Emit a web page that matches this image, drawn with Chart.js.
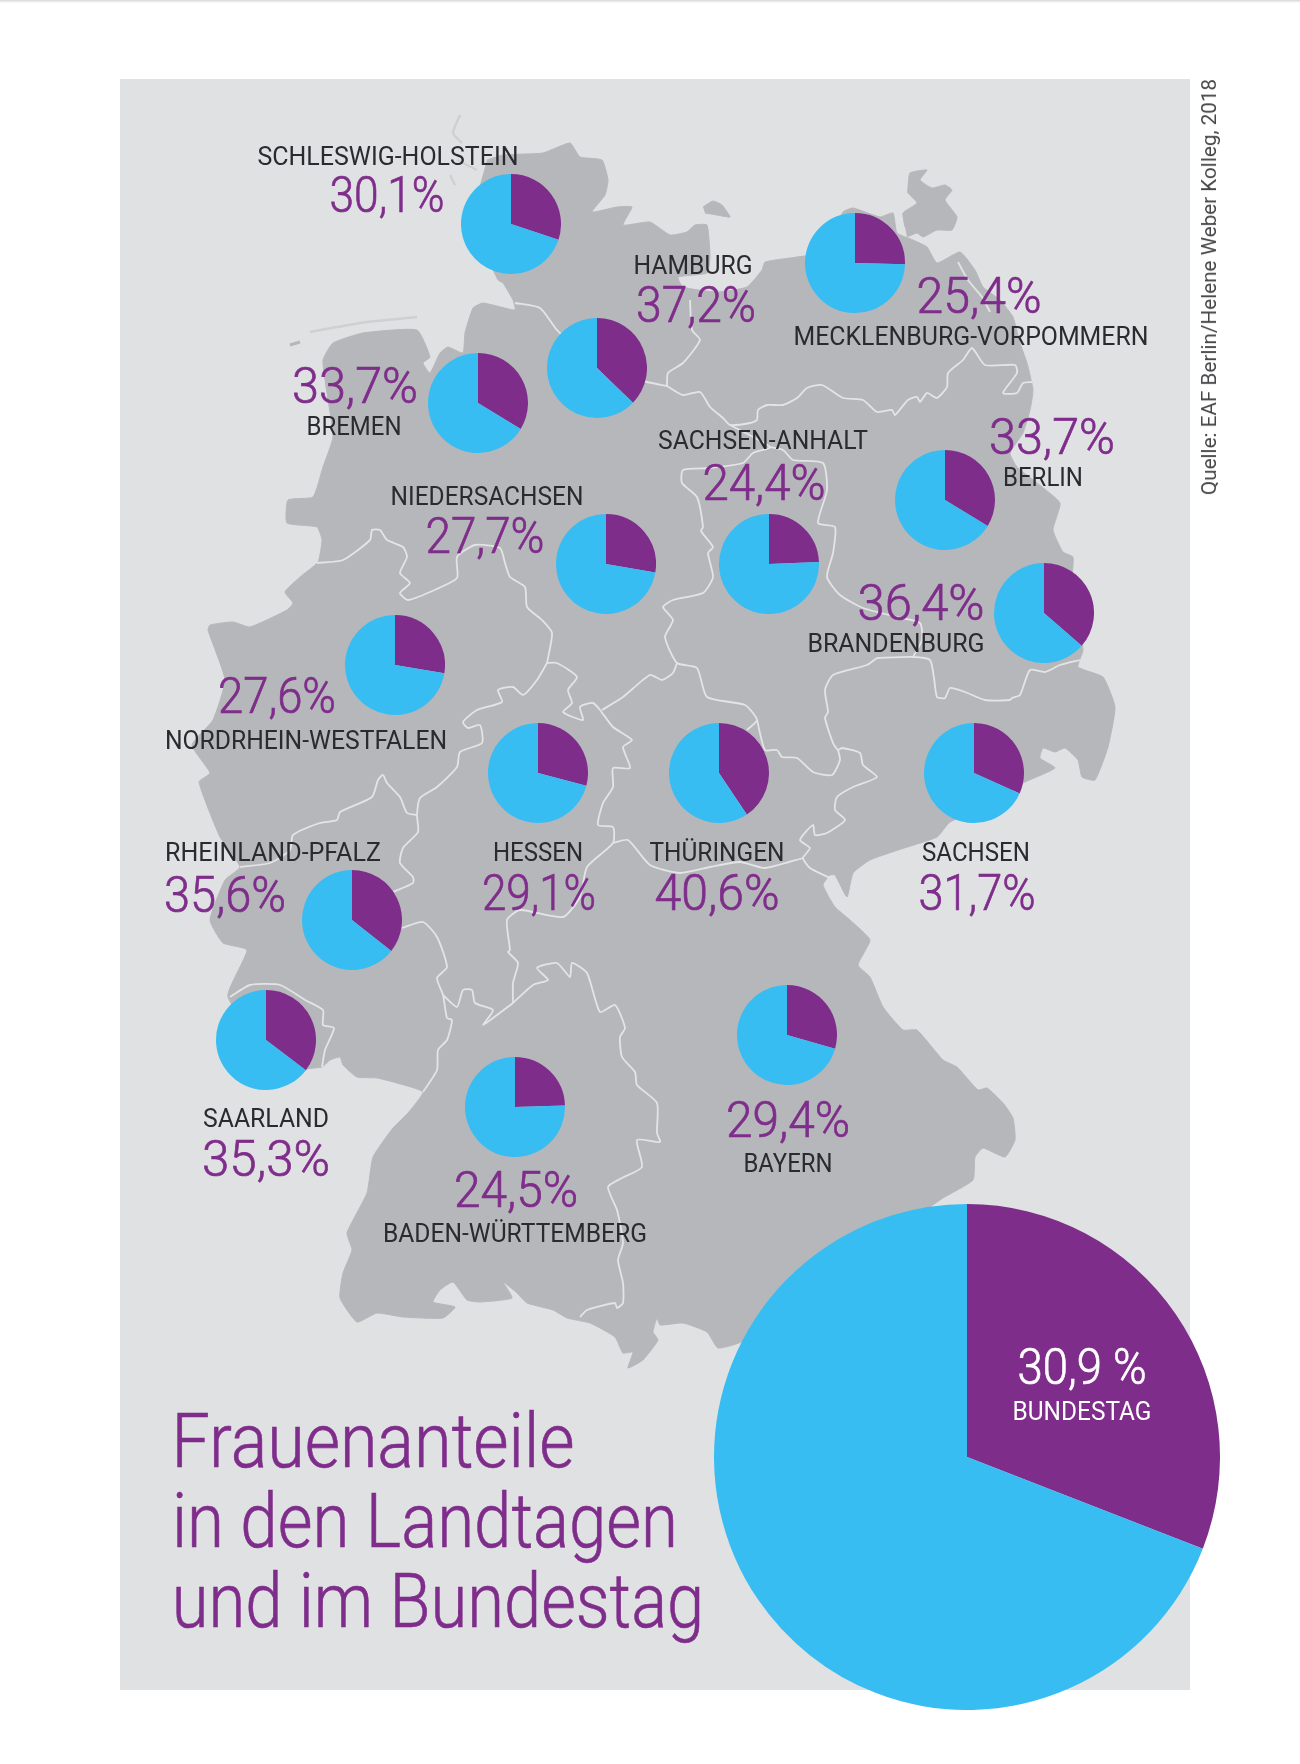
<!DOCTYPE html>
<html lang="de">
<head>
<meta charset="utf-8">
<title>Frauenanteile in den Landtagen und im Bundestag</title>
<script src="https://cdn.jsdelivr.net/npm/chart.js@4"></script>
<style>
  html, body { margin: 0; padding: 0; background: #fff; }
  #page { position: relative; width: 1300px; height: 1764px; overflow: hidden; font-family: Roboto, sans-serif; }
  #topline { position: absolute; left: 0; top: 0; width: 1300px; height: 3px; background: linear-gradient(#d6d6d6, #fff); }
  #panel { position: absolute; left: 120px; top: 79px; width: 1070px; height: 1611px; background: #e0e1e3; }
  #map { position: absolute; left: 0; top: 0; }
  .pie { position: absolute; }
  .lbl { position: absolute; line-height: 1; white-space: nowrap; }
  .name { font-size: 25px; font-weight: 400; color: #2b2a2e; }
  .pct { font-size: 50px; font-weight: 300; color: #7f2d8b; -webkit-text-stroke: 0.7px #7f2d8b; }
  .title { font-size: 76px; font-weight: 300; color: #7f2d8b; -webkit-text-stroke: 0.6px #7f2d8b; }
  .pct.white { color: #fff; -webkit-text-stroke: 0.7px #fff; }
  .white { color: #fff; }
  .src { font-size: 20px; font-weight: 400; color: #47474a; }
</style>
</head>
<body>
<div id="page">
  <div id="topline"></div>
  <div id="panel"></div>
  <canvas id="map" width="1300" height="1764"></canvas>
</div>
<script>
// --- Werte ---
const laender = ['SCHLESWIG-HOLSTEIN', 'HAMBURG', 'MECKLENBURG-VORPOMMERN', 'BREMEN', 'BERLIN', 'NIEDERSACHSEN',
  'SACHSEN-ANHALT', 'BRANDENBURG', 'NORDRHEIN-WESTFALEN', 'HESSEN', 'THÜRINGEN', 'SACHSEN',
  'RHEINLAND-PFALZ', 'SAARLAND', 'BADEN-WÜRTTEMBERG', 'BAYERN'];
const frauenanteil = [30.1, 37.2, 25.4, 33.7, 33.7, 27.7, 24.4, 36.4, 27.6, 29.1, 40.6, 31.7, 35.6, 35.3, 24.5, 29.4];
const bundestag = 30.9;
const titel = ['Frauenanteile', 'in den Landtagen', 'und im Bundestag'];
const quelle = 'Quelle: EAF Berlin/Helene Weber Kolleg, 2018';

const festland = [[487,160],[503,155],[543,153],[570,143],[580,157],[602,160],[608,180],[605,195],[592,212],[617,207],[632,207],[623,225],[650,222],[670,235],[687,232],[695,225],[707,225],[710,257],[707,273],[678,277],[683,287],[717,292],[747,287],[762,270],[765,262],[797,257],[823,252],[843,212],[853,208],[880,217],[893,213],[897,233],[913,240],[927,247],[937,263],[960,252],[975,270],[983,287],[1000,300],[1013,317],[1020,343],[1027,363],[1033,390],[1030,410],[1023,433],[1010,453],[1017,467],[1037,483],[1060,503],[1053,530],[1063,552],[1073,557],[1072,580],[1075,600],[1083,650],[1078,667],[1103,677],[1115,707],[1108,747],[1095,780],[1082,777],[1078,760],[1065,748],[1055,752],[1043,748],[1040,758],[1055,768],[1023,783],[990,805],[950,822],[937,837],[898,850],[870,860],[853,873],[847,897],[835,875],[830,875],[823,885],[835,907],[850,920],[870,940],[858,965],[870,977],[883,1007],[903,1030],[917,1030],[943,1060],[957,1067],[978,1090],[987,1088],[1003,1103],[1013,1118],[1015,1140],[1005,1157],[983,1148],[975,1157],[973,1180],[943,1198],[930,1207],[800,1300],[741,1342],[718,1348],[707,1332],[683,1323],[660,1325],[657,1318],[653,1332],[658,1340],[643,1360],[628,1368],[633,1352],[623,1353],[615,1337],[590,1323],[567,1318],[553,1310],[527,1303],[516,1292],[503,1282],[512,1298],[480,1302],[467,1300],[453,1282],[440,1290],[433,1302],[455,1307],[443,1318],[403,1317],[377,1313],[357,1322],[340,1298],[343,1273],[352,1250],[347,1233],[367,1193],[373,1157],[393,1128],[408,1113],[423,1092],[397,1083],[377,1078],[357,1077],[343,1065],[340,1057],[330,1060],[322,1067],[307,1069],[290,1080],[228,997],[247,950],[223,943],[210,920],[225,880],[240,867],[220,837],[199,782],[210,773],[192,745],[213,720],[225,680],[208,630],[210,625],[233,622],[250,627],[287,610],[293,603],[285,592],[300,577],[318,562],[322,540],[317,527],[287,523],[288,500],[313,497],[323,467],[333,437],[327,393],[323,360],[333,343],[363,333],[417,330],[430,357],[423,363],[430,373],[440,353],[448,347],[463,353],[465,333],[473,308],[483,303],[515,310],[513,300],[503,283],[498,280],[470,220]];
const ruegen = [[905,227],[903,213],[917,203],[908,193],[908,187],[910,173],[927,170],[920,180],[932,188],[945,185],[952,190],[945,200],[957,217],[952,230],[937,230],[923,237],[917,233],[907,237]];
const fehmarn = [[703,207],[713,201],[722,205],[730,217],[717,215],[705,213]];
const inselnFein = [
  [[460,115],[453,133],[462,143]],
  [[450,175],[455,185]],
  [[457,160],[477,170]],
  [[310,332],[337,327],[367,322],[417,317]]
];
const inselWest = [[290,345],[300,342]];
// Wasserrinne hinter Usedom
const usedomRinne = [[958,262],[968,280],[982,297],[990,312]];

const grenzen = [
  // Schleswig-Holstein / Niedersachsen / Hamburg
  [[515,303],[540,308],[557,330],[600,370],[647,382],[667,386]],
  // Mecklenburg-Vorpommern West
  [[667,386],[668,373],[683,363],[700,340],[692,330],[690,300]],
  // Elbe und Nordgrenze Brandenburg
  [[667,386],[683,395],[700,392],[710,407],[723,418],[730,425],[750,423],[757,420],[758,410],[767,405],[783,405],[797,398],[807,388],[822,385],[843,398],[863,400],[877,412],[892,410],[895,415],[908,400],[917,397],[920,402],[927,393],[937,398],[947,387],[948,373],[963,360],[972,348],[985,365],[1015,365],[1017,373],[1003,393],[1017,393],[1023,383],[1032,382]],
  // Sachsen-Anhalt West
  [[730,425],[770,447],[753,453],[743,463],[710,468],[683,470],[682,483],[697,497],[703,527],[701,531],[713,547],[708,553],[713,577],[703,593],[673,600],[663,607],[673,620],[665,637],[677,663],[697,668],[707,697],[745,705],[757,720],[747,730]],
  // Sachsen-Anhalt Ost
  [[770,447],[783,450],[793,460],[823,463],[827,490],[818,523],[835,527],[833,553],[827,577],[840,595],[863,608],[897,617],[920,623],[922,640],[913,657]],
  // Brandenburg Sued
  [[877,658],[913,657],[930,660],[934,678],[937,697],[945,698],[950,688],[965,692],[985,700],[1010,700],[1012,698],[1020,695],[1030,670],[1045,672],[1060,665],[1080,660]],
  // Sachsen West
  [[877,658],[867,665],[833,675],[825,690],[828,712],[825,718],[833,743],[838,750],[842,748],[860,753],[863,765],[877,777],[853,787],[837,797],[835,810],[845,820],[827,833],[815,835],[813,825],[800,840],[810,848],[803,858],[810,868],[830,878]],
  // Thueringen Nordost
  [[757,720],[765,750],[777,750],[782,757],[797,758],[813,772],[832,775],[840,760],[838,750]],
  // Thueringen Sued
  [[613,843],[628,840],[650,865],[680,873],[710,867],[740,862],[765,868],[803,858]],
  // Niedersachsen / NRW
  [[317,563],[343,560],[370,540],[372,530],[380,530],[387,540],[403,547],[407,557],[400,573],[410,583],[400,593],[408,600],[430,592],[457,578],[457,557],[475,545],[500,548],[505,563],[510,577],[525,587],[527,607],[542,620],[552,633],[547,663]],
  // Hessen Nord
  [[547,663],[557,663],[577,677],[568,690],[572,703],[563,712],[583,720],[580,707],[593,703],[600,710],[613,727],[632,740],[623,747],[630,768],[613,768],[613,787],[603,803],[598,825],[613,827],[613,843],[587,867],[580,897],[563,917],[520,910],[507,920],[510,950],[508,952],[518,963],[513,983],[513,1003]],
  // Thueringen Nord
  [[602,710],[623,697],[650,675],[662,680],[673,673],[677,663]],
  // NRW / Hessen / Rheinland-Pfalz
  [[547,663],[537,680],[523,695],[513,687],[498,690],[502,702],[477,710],[463,722],[468,728],[480,725],[482,743],[460,752],[457,767],[437,787],[420,798],[417,815],[418,832],[403,848],[400,863],[413,877],[413,883],[393,892]],
  // NRW / Rheinland-Pfalz
  [[417,815],[407,813],[400,797],[387,783],[383,775],[378,780],[372,797],[340,812],[337,820],[320,823],[293,835],[290,850],[270,863],[240,867]],
  // Rheinland-Pfalz / Hessen Sued
  [[402,928],[423,922],[437,937],[447,967],[437,978],[443,995],[447,1018],[452,1020],[447,1040],[438,1050],[437,1070],[423,1092]],
  // Saarland
  [[230,997],[250,985],[280,985],[305,1000],[323,1010],[323,1025],[334,1028],[325,1050],[322,1067]],
  // Hessen / Baden-Wuerttemberg
  [[443,995],[457,1007],[463,990],[472,990],[475,1003],[493,1010],[483,1025],[497,1015],[513,1003]],
  // Baden-Wuerttemberg / Bayern
  [[513,1003],[533,985],[548,980],[537,968],[557,963],[570,977],[572,963],[587,973],[600,1012],[615,1005],[625,1028],[620,1037],[622,1057],[635,1072],[637,1085],[657,1103],[657,1133],[660,1142],[637,1140],[642,1167],[622,1178],[608,1187],[617,1210],[623,1243],[618,1260],[623,1283],[623,1303],[617,1308],[615,1303],[587,1310],[580,1317]]
];

// --- Layout: Tortenmitten, Textfelder [Mitte x, Mitte y, Breite] in Reihenfolge von laender ---
const pieMitten = [[510.5,223.5],[597,367.5],[855,263],[478,402.5],[945,500],[606,563.5],[769,563.5],[1043.5,613],
  [394.5,664.5],[537.5,772.5],[718.5,772.5],[974,772.5],[352,920],[265.5,1040],[515,1106.5],[787,1034.5]];
const namenFelder = [[387.5,156,261],[693,264.5,119],[970.5,336,355],[353.5,426,95],[1043,477,80],[486.5,496,193],
  [763,440,210],[895.5,642.5,177],[306,739.5,282],[538,851.5,90],[716.5,851.5,135],[976,851.5,108],
  [273,851.5,216],[266,1118,126],[515,1233,264],[787.5,1163,89]];
const wertFelder = [[386.5,195,115],[696,304.5,120],[978.5,296,125],[355,386,126],[1052,437,126],[484.5,535.5,119],
  [763.5,482.5,123],[920.5,602.5,127],[277,695.5,118],[539,892.5,114],[716.5,892.5,125],[976.5,892.5,117],
  [225,895,122],[266,1159,128],[516,1189.5,124],[788,1119.5,124]];

const BLAU = '#38bdf2';
const LILA = '#7f2d8b';
const page = document.getElementById('page');

function toPoints(list) {
  return list.map(p => ({ x: p[0], y: p[1] }));
}

// order: kleinere Werte liegen bei Chart.js oben
function flaeche(list, farbe) {
  return { data: toPoints(list), borderColor: farbe, backgroundColor: farbe, borderWidth: 1, fill: 'shape', tension: 0.15, pointRadius: 0, order: 3 };
}

function linie(list, farbe, breite, order) {
  return { data: toPoints(list), borderColor: farbe, borderWidth: breite, fill: false, tension: 0.2, pointRadius: 0, order: order };
}

// Karte als Linien-Datasets auf einer Seitenskala
new Chart(document.getElementById('map'), {
  type: 'scatter',
  data: {
    datasets: [
      flaeche(festland, '#b6b7ba'),
      flaeche(ruegen, '#b6b7ba'),
      flaeche(fehmarn, '#b6b7ba'),
      linie(inselWest, '#b6b7ba', 3, 2),
      linie(usedomRinne, '#e0e1e3', 2, 2),
      ...inselnFein.map(i => linie(i, '#cfd0d2', 2.5, 2)),
      ...grenzen.map(g => linie(g, '#e3e4e6', 1.8, 1))
    ].map(d => ({ ...d, showLine: true }))
  },
  options: {
    responsive: false,
    animation: false,
    devicePixelRatio: 1,
    layout: { padding: 0 },
    events: [],
    plugins: { legend: { display: false }, tooltip: { enabled: false } },
    scales: {
      x: { type: 'linear', min: 0, max: 1300, display: false },
      y: { type: 'linear', min: 0, max: 1764, reverse: true, display: false }
    }
  }
});

function torte(mitte, r, wert) {
  const c = document.createElement('canvas');
  c.className = 'pie';
  c.width = c.height = r * 2;
  c.style.left = (mitte[0] - r) + 'px';
  c.style.top = (mitte[1] - r) + 'px';
  page.appendChild(c);
  new Chart(c, {
    type: 'pie',
    data: { datasets: [{ data: [wert, 100 - wert], backgroundColor: [LILA, BLAU], borderWidth: 0 }] },
    options: {
      responsive: false,
      animation: false,
      devicePixelRatio: 1,
      events: [],
      layout: { padding: 0 },
      plugins: { legend: { display: false }, tooltip: { enabled: false } }
    }
  });
}

function text(str, cls, feld) {
  const el = document.createElement('div');
  el.className = 'lbl ' + cls;
  el.textContent = str;
  el.style.left = feld[0] + 'px';
  el.style.top = feld[1] + 'px';
  page.appendChild(el);
  const k = feld[2] / el.getBoundingClientRect().width;
  el.style.transform = 'translate(-50%,-50%) scaleX(' + k.toFixed(3) + ')';
  return el;
}

function prozent(v) {
  return v.toFixed(1).replace('.', ',') + '%';
}

laender.forEach((name, i) => {
  torte(pieMitten[i], 50, frauenanteil[i]);
});
torte([967, 1457], 253, bundestag);

laender.forEach((name, i) => {
  text(name, 'name', namenFelder[i]);
  text(prozent(frauenanteil[i]), 'pct', wertFelder[i]);
});
text(bundestag.toFixed(1).replace('.', ',') + ' %', 'pct white', [1081.5, 1367, 129]);
text('BUNDESTAG', 'name white', [1081.5, 1411, 139]);

const titelFelder = [[373, 1441, 403], [424.5, 1521, 506], [437.5, 1601, 532]];
titel.forEach((zeile, i) => text(zeile, 'title', titelFelder[i]));

// Quelle, senkrecht am rechten Rand
const q = document.createElement('div');
q.className = 'lbl src';
q.textContent = quelle;
q.style.left = '1209px';
q.style.top = '287px';
page.appendChild(q);
const qk = 416 / q.getBoundingClientRect().width;
q.style.transform = 'translate(-50%,-50%) rotate(-90deg) scaleX(' + qk.toFixed(3) + ')';
</script>
</body>
</html>
